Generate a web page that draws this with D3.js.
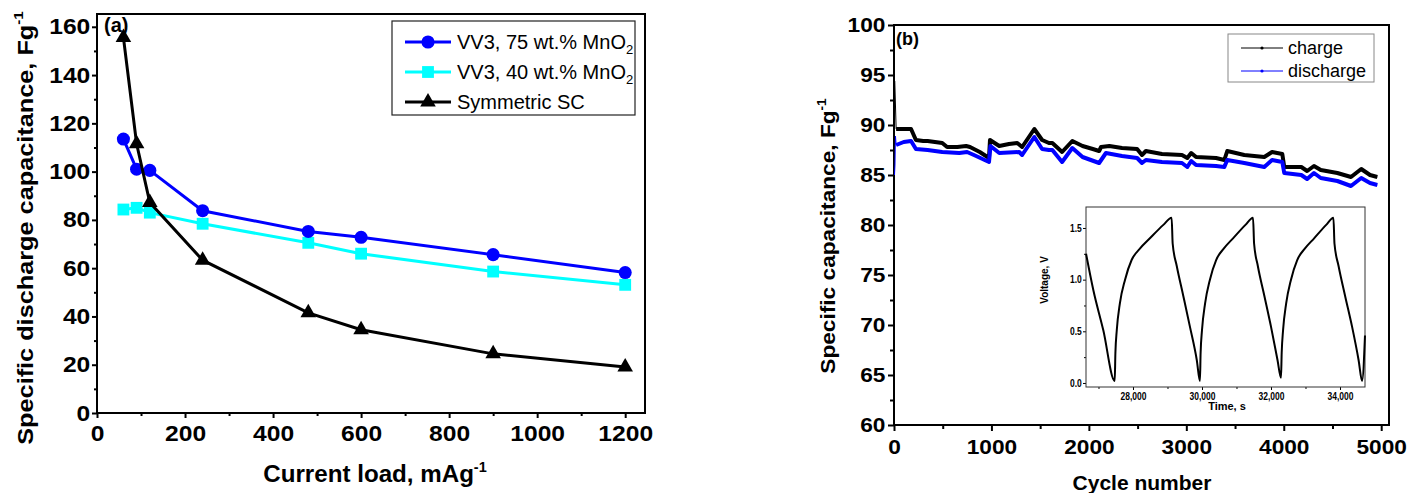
<!DOCTYPE html>
<html lang="en">
<head>
<meta charset="UTF-8">
<title>capacitance</title>
<script src="https://cdn.jsdelivr.net/npm/d3@7"></script>
<style>
	body { margin: 0; background: #fff; }
	svg { display: block; }
	text { font-family: "Liberation Sans", Arial, sans-serif; fill: #000; }
	.tick line { stroke: #000; }
</style>
</head>
<body>
<script>
// ---- panel (a): discharge capacitance vs current load ----
var loadValues = [60, 90, 120, 240, 480, 600, 900, 1200];
var vv3_75 = [113.5, 101, 100.5, 83.8, 75.2, 72.8, 65.6, 58.2];
var vv3_40 = [84.3, 85, 83, 78.4, 70.5, 66, 58.6, 53.1];
var symmetricSC = [155.6, 111.5, 87.2, 63.3, 41.5, 34.5, 24.5, 19.1];
var loadTicks = [0, 200, 400, 600, 800, 1000, 1200];
var loadMinor = [100, 300, 500, 700, 900, 1100];
var capTicksA = [0, 20, 40, 60, 80, 100, 120, 140, 160];
var capMinorA = [10, 30, 50, 70, 90, 110, 130, 150];

// ---- panel (b): cycling ----
var chargeCycles = [8, 22, 100, 175, 225, 300, 345, 420, 495, 545, 650, 740, 780, 880, 975, 985, 1080, 1180, 1265, 1315, 1440, 1520, 1590, 1625, 1725, 1830, 1935, 2040, 2105, 2125, 2210, 2340, 2495, 2545, 2585, 2750, 2955, 3010, 3050, 3100, 3305, 3390, 3420, 3595, 3800, 3880, 3985, 4005, 4180, 4240, 4310, 4380, 4550, 4690, 4795, 4885, 4960];
var chargeValues = [94.4, 89.6, 89.6, 89.6, 88.5, 88.4, 88.4, 88.3, 88.2, 87.8, 87.8, 87.9, 87.8, 87.3, 86.7, 88.5, 87.9, 88.1, 88.2, 87.8, 89.6, 88.5, 88.2, 88.2, 87.3, 88.4, 87.9, 87.6, 87.4, 87.8, 87.9, 87.7, 87.6, 87.0, 87.4, 87.1, 87.0, 86.7, 87.2, 86.8, 86.7, 86.5, 87.4, 87.0, 86.8, 87.3, 87.1, 85.8, 85.8, 85.4, 85.9, 85.5, 85.2, 84.8, 85.6, 85.0, 84.8];
var dischargeCycles = [5, 10, 15, 22, 100, 175, 225, 345, 495, 670, 750, 820, 975, 990, 1080, 1285, 1315, 1440, 1520, 1590, 1625, 1725, 1830, 1935, 2105, 2175, 2340, 2495, 2545, 2585, 2750, 2955, 3010, 3050, 3100, 3305, 3390, 3420, 3595, 3800, 3880, 3985, 4005, 4180, 4240, 4310, 4380, 4550, 4690, 4795, 4885, 4960];
var dischargeValues = [85.0, 86.0, 88.9, 88.0, 88.3, 88.4, 87.6, 87.5, 87.3, 87.2, 87.3, 87.0, 86.3, 87.9, 87.2, 87.3, 87.0, 88.8, 87.6, 87.5, 87.5, 86.3, 87.7, 86.8, 86.2, 87.2, 86.9, 86.7, 86.2, 86.5, 86.3, 86.2, 85.8, 86.4, 86.0, 85.9, 85.8, 86.5, 86.2, 85.8, 86.5, 86.3, 85.2, 85.0, 84.6, 85.2, 84.7, 84.4, 83.9, 84.7, 84.2, 84.0];
var cycleTicks = [0, 1000, 2000, 3000, 4000, 5000];
var cycleMinor = [500, 1500, 2500, 3500, 4500];
var capTicksB = [60, 65, 70, 75, 80, 85, 90, 95, 100];
var capMinorB = [62.5, 67.5, 72.5, 77.5, 82.5, 87.5, 92.5, 97.5];

// ---- inset: voltage profile ----
var timeValues = [26640, 26850, 27140, 27470, 27490, 27530, 27620, 27770, 27960, 28200, 28490, 28880, 29120, 29150, 29270, 29460, 29650, 29850, 29940,
	29960, 30000, 30090, 30230, 30410, 30630, 30900, 31260, 31480, 31510, 31620, 31810, 32000, 32190, 32290,
	32310, 32350, 32440, 32580, 32760, 32980, 33250, 33600, 33810, 33840, 33960, 34150, 34350, 34540, 34640, 34725];
var voltageValues = [1.25, 0.90, 0.51, 0.02, 0.29, 0.51, 0.77, 1.0, 1.19, 1.30, 1.40, 1.53, 1.60, 1.35, 1.13, 0.84, 0.545, 0.22, 0.02,
	0.29, 0.51, 0.77, 1.0, 1.19, 1.30, 1.40, 1.53, 1.60, 1.35, 1.13, 0.84, 0.545, 0.22, 0.05,
	0.29, 0.51, 0.77, 1.0, 1.19, 1.30, 1.40, 1.53, 1.60, 1.35, 1.13, 0.84, 0.545, 0.22, 0.02, 0.46];
var timeTicks = [28000, 30000, 32000, 34000];
var timeMinor = [27000, 29000, 31000, 33000];
var voltTicks = [0, 0.5, 1.0, 1.5];
var voltMinor = [0.25, 0.75, 1.25];


var svg = d3.select('body').append('svg')
	.attr('width', 1419)
	.attr('height', 493);

function zip(xs, ys) {
	return xs.map(function (d, i) { return [d, ys[i]]; });
}

// draws major + minor ticks, outward, and a closed frame
function axes(g, x, y, o) {
	var gx = g.append('g').attr('transform', 'translate(0,' + y.range()[0] + ')');
	gx.append('g').call(d3.axisBottom(x).tickValues(o.xMinor).tickSize(o.minor).tickFormat(''));
	gx.append('g').call(d3.axisBottom(x).tickValues(o.xMajor).tickSize(o.major).tickPadding(o.xPad).tickFormat(o.xFmt));

	var gy = g.append('g').attr('transform', 'translate(' + x.range()[0] + ',0)');
	gy.append('g').call(d3.axisLeft(y).tickValues(o.yMinor).tickSize(o.minor).tickFormat(''));
	gy.append('g').call(d3.axisLeft(y).tickValues(o.yMajor).tickSize(o.major).tickPadding(o.yPad).tickFormat(o.yFmt));

	g.selectAll('.domain').remove();
	g.selectAll('.tick line').attr('stroke-width', o.width);
	g.selectAll('.tick text')
		.attr('font-size', o.font)
		.attr('font-weight', 'bold')
		.attr('font-family', '"Liberation Sans", Arial, sans-serif')
		.attr('transform', 'scale(' + o.sx + ',1)');

	g.append('rect')
		.attr('x', x.range()[0])
		.attr('y', y.range()[1])
		.attr('width', x.range()[1] - x.range()[0])
		.attr('height', y.range()[0] - y.range()[1])
		.attr('fill', o.fill || 'none')
		.attr('stroke', o.frame || '#000')
		.attr('stroke-width', o.width);
}

// text with a superscript tail, optionally rotated and stretched
function title(x, y, rot, size, sx, main, sup, weight) {
	var t = svg.append('text')
		.attr('transform', 'translate(' + x + ',' + y + ') rotate(' + rot + ') scale(' + sx + ',1)')
		.attr('text-anchor', 'middle')
		.attr('font-size', size)
		.attr('font-weight', weight || 'bold');
	t.append('tspan').text(main);
	if (sup) {
		t.append('tspan').attr('dy', -size * 0.45).attr('font-size', size * 0.6).text(sup);
	}
	return t;
}


// ================= panel (a) =================
var xa = d3.scaleLinear().domain([0, 1245]).range([97, 645]);
var ya = d3.scaleLinear().domain([0, 165.3]).range([413, 14]);
var ga = svg.append('g');

axes(ga, xa, ya, {
	xMajor: loadTicks, xMinor: loadMinor, yMajor: capTicksA, yMinor: capMinorA,
	xFmt: d3.format('d'), yFmt: d3.format('d'),
	major: 5, minor: 3, xPad: 7, yPad: 1, font: 22, sx: 1.12, width: 2
});

var lineA = d3.line()
	.x(function (d) { return xa(d[0]); })
	.y(function (d) { return ya(d[1]); });

var seriesA = [
	{ name: 'VV3, 75 wt.% MnO', sub: '2', values: vv3_75, color: '#0000ff', shape: d3.symbolCircle, size: 135 },
	{ name: 'VV3, 40 wt.% MnO', sub: '2', values: vv3_40, color: '#00ffff', shape: d3.symbolSquare, size: 140 },
	{ name: 'Symmetric SC', sub: '', values: symmetricSC, color: '#000', shape: d3.symbolTriangle, size: 105 }
];

[seriesA[1], seriesA[0], seriesA[2]].forEach(function (s) {
	var pts = zip(loadValues, s.values);
	ga.append('path')
		.attr('d', lineA(pts))
		.attr('fill', 'none')
		.attr('stroke', s.color)
		.attr('stroke-width', 3);
	ga.selectAll(null).data(pts).enter().append('path')
		.attr('d', d3.symbol().type(s.shape).size(s.size))
		.attr('transform', function (d) { return 'translate(' + xa(d[0]) + ',' + ya(d[1]) + ')'; })
		.attr('fill', s.color);
});

// legend (a)
ga.append('rect')
	.attr('x', 392).attr('y', 21).attr('width', 243).attr('height', 94)
	.attr('fill', '#fff').attr('stroke', '#222').attr('stroke-width', 1.2);
seriesA.forEach(function (s, i) {
	var cy = 42 + i * 30;
	ga.append('line').attr('x1', 405).attr('x2', 451).attr('y1', cy).attr('y2', cy)
		.attr('stroke', s.color).attr('stroke-width', 3);
	ga.append('path')
		.attr('d', d3.symbol().type(s.shape).size(s.size))
		.attr('transform', 'translate(428,' + cy + ')')
		.attr('fill', s.color);
	var t = ga.append('text').attr('x', 457).attr('y', cy + 7).attr('font-size', 20).text(s.name);
	if (s.sub) t.append('tspan').attr('dy', 5).attr('font-size', 13).text(s.sub);
});

svg.append('text').attr('x', 104).attr('y', 32).attr('font-size', 20).attr('font-weight', 'bold').text('(a)');

title(375, 482, 0, 23, 1.05, 'Current load, mAg', '-1');
title(33, 228, -90, 22, 1.15, 'Specific discharge capacitance, Fg', '-1');


// ================= panel (b) =================
var xb = d3.scaleLinear().domain([0, 5080]).range([894, 1389]);
var yb = d3.scaleLinear().domain([60, 100]).range([425, 25]);
var gb = svg.append('g');

axes(gb, xb, yb, {
	xMajor: cycleTicks, xMinor: cycleMinor, yMajor: capTicksB, yMinor: capMinorB,
	xFmt: d3.format('d'), yFmt: d3.format('d'),
	major: 6, minor: 4, xPad: 8, yPad: 2, font: 21, sx: 1.08, width: 2
});

var lineB = d3.line()
	.x(function (d) { return xb(d[0]); })
	.y(function (d) { return yb(d[1]); });

var seriesB = [
	{ name: 'charge', cycles: chargeCycles, values: chargeValues, color: '#000' },
	{ name: 'discharge', cycles: dischargeCycles, values: dischargeValues, color: '#0000ff' }
];

seriesB.forEach(function (s) {
	var pts = zip(s.cycles, s.values);
	// thin trace for the first cycles, dense dotted band afterwards
	gb.append('path').attr('d', lineB(pts)).attr('fill', 'none')
		.attr('stroke', s.color).attr('stroke-width', 1);
	gb.append('path').attr('d', lineB(pts.filter(function (d) { return d[0] >= 20; })))
		.attr('fill', 'none').attr('stroke', s.color).attr('stroke-width', 4)
		.attr('stroke-linejoin', 'round');
});

// legend (b)
gb.append('rect')
	.attr('x', 1228).attr('y', 34).attr('width', 146).attr('height', 48)
	.attr('fill', '#fff').attr('stroke', '#888').attr('stroke-width', 1);
seriesB.forEach(function (s, i) {
	var cy = 48 + i * 23;
	gb.append('line').attr('x1', 1241).attr('x2', 1283).attr('y1', cy).attr('y2', cy)
		.attr('stroke', s.color).attr('stroke-width', 1);
	gb.append('circle').attr('cx', 1262).attr('cy', cy).attr('r', 1.6).attr('fill', s.color);
	gb.append('text').attr('x', 1288).attr('y', cy + 6).attr('font-size', 18).text(s.name);
});

svg.append('text').attr('x', 896).attr('y', 45).attr('font-size', 18).attr('font-weight', 'bold').text('(b)');

title(1142, 490, 0, 21, 1.0, 'Cycle number', '');
title(835, 236, -90, 21, 1.08, 'Specific capacitance, Fg', '-1');


// ================= inset =================
var xi = d3.scaleLinear().domain([26638, 34725]).range([1086, 1365]);
var yi = d3.scaleLinear().domain([-0.039, 1.703]).range([387, 207]);
var gi = svg.append('g');

axes(gi, xi, yi, {
	xMajor: timeTicks, xMinor: timeMinor, yMajor: voltTicks, yMinor: voltMinor,
	xFmt: d3.format(','), yFmt: d3.format('.1f'),
	major: 3, minor: 2, xPad: 3, yPad: 2, font: 10, sx: 0.85, width: 1,
	frame: '#333', fill: 'none'
});

var lineI = d3.line()
	.x(function (d) { return xi(d[0]); })
	.y(function (d) { return yi(d[1]); })
	.curve(d3.curveMonotoneX);

gi.append('path')
	.attr('d', lineI(zip(timeValues, voltageValues)))
	.attr('fill', 'none')
	.attr('stroke', '#000')
	.attr('stroke-width', 2);

title(1227, 410, 0, 11, 1.0, 'Time, s', '');
title(1048, 280, -90, 10, 1.0, 'Voltage, V', '');
</script>
</body>
</html>
